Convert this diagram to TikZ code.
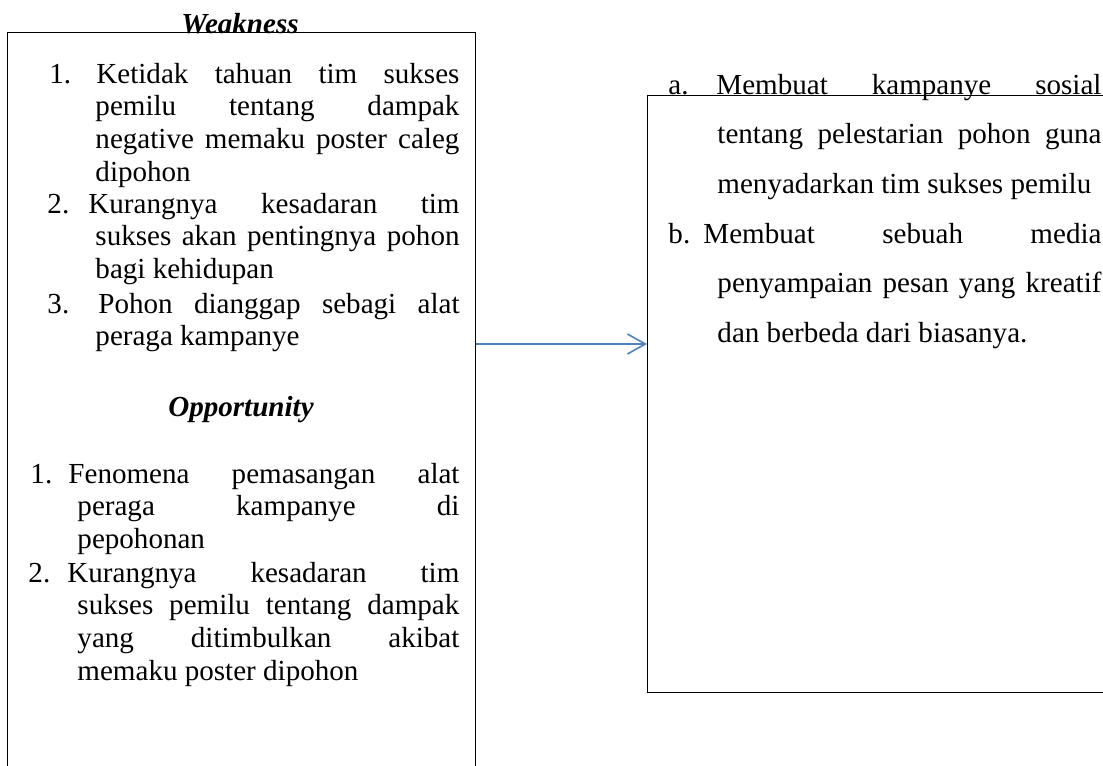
\documentclass[tikz,border=0pt]{standalone}
\usepackage{fontspec}
\setmainfont{Liberation Serif}
\usetikzlibrary{arrows.meta}
\definecolor{arrowblue}{RGB}{79,129,189}
\tikzset{
  frame/.style={draw,line width=0.6pt,rectangle,inner sep=0pt,anchor=north west},
  listitem/.style={anchor=base west,inner sep=0pt,align=justify,font=\fontsize{12.5}{14.1}\selectfont},
  widelist/.style={listitem,font=\fontsize{12.5}{21.4}\selectfont},
  heading/.style={anchor=base,inner sep=0pt,font=\fontsize{12.5}{14}\selectfont\bfseries\itshape},
  link/.style={line width=0.7pt,arrowblue,-{Straight Barb[length=7.7pt,width=8.6pt]}}
}
\newcommand{\listentry}[4]{\hangindent=#1\hangafter=1\noindent\makebox[#2][l]{#3}#4\par}
\begin{document}
\begin{tikzpicture}[x=0.43pt,y=-0.43pt]
\useasboundingbox (0,0) rectangle (1103,765);
\clip (0,0) rectangle (1103,765);

\node [frame,minimum width=201.24pt,minimum height=373.24pt] (weakbox) at (7,32) {};
\node [frame,minimum width=237.79pt,minimum height=256.71pt] (strategybox) at (647,95) {};

\node [heading] (weakness) at (240,33) {Weakness};
\node [listitem,text width=176.3pt] (w1) at (49,83)
  {\listentry{19.78pt}{20.2pt}{1.}{Ketidak tahuan tim sukses\linebreak pemilu tentang dampak\linebreak negative memaku poster caleg\linebreak dipohon}};
\node [listitem,text width=177.2pt] (w2) at (47,213)
  {\listentry{20.64pt}{17.63pt}{2.}{Kurangnya kesadaran tim\linebreak sukses akan pentingnya pohon\linebreak bagi kehidupan}};
\node [listitem,text width=177.2pt] (w3) at (47,313)
  {\listentry{20.64pt}{21.93pt}{3.}{Pohon dianggap sebagi alat\linebreak peraga kampanye}};

\node [heading] (opportunity) at (241,416) {Opportunity};
\node [listitem,text width=184.5pt] (o1) at (30,483)
  {\listentry{20.21pt}{16.34pt}{1.}{Fenomena pemasangan alat\linebreak peraga kampanye di\linebreak pepohonan}};
\node [listitem,text width=185.3pt] (o2) at (28,582)
  {\listentry{21.07pt}{16.77pt}{2.}{Kurangnya kesadaran tim\linebreak sukses pemilu tentang dampak\linebreak yang ditimbulkan akibat\linebreak memaku poster dipohon}};

\node [widelist,text width=186.2pt] (s1) at (668,94)
  {\listentry{21.07pt}{20.64pt}{a.}{Membuat kampanye sosial\linebreak tentang pelestarian pohon guna\linebreak menyadarkan tim sukses pemilu}};
\node [widelist,text width=186.2pt] (s2) at (668,243)
  {\listentry{21.07pt}{15.05pt}{b.}{Membuat sebuah media\linebreak penyampaian pesan yang kreatif\linebreak dan berbeda dari biasanya.}};

\coordinate (arrowrow) at (560,344);
\draw [link] (weakbox.east |- arrowrow) -- (strategybox.west |- arrowrow);

\end{tikzpicture}
\end{document}
